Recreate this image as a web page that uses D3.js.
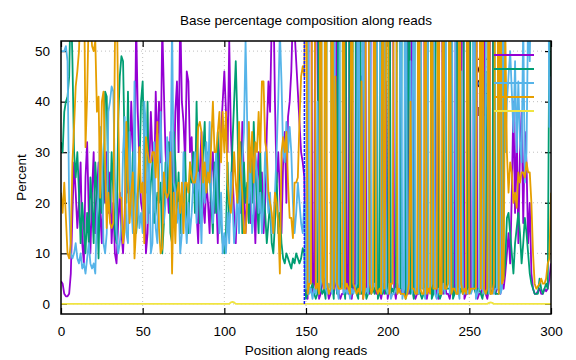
<!DOCTYPE html>
<html>
<head>
<meta charset="utf-8">
<script src="https://cdn.jsdelivr.net/npm/d3@7"></script>
<style>
  body { margin: 0; background: #fff; }
  text { font-family: "Liberation Sans", Arial, sans-serif; fill: #000; }
</style>
</head>
<body>
<div id="chart"></div>
<script>
// chart values (position 0..300)
const title = 'Base percentage composition along reads';
const xLabel = 'Position along reads';
const yLabel = 'Percent';
const seriesNames = ['A', 'C', 'G', 'T', 'N'];
const xTicks = [0, 50, 100, 150, 200, 250, 300];
const yTicks = [0, 10, 20, 30, 40, 50];
const readBoundary = 149;

const baseA = [
  4.5, 4, 2, 1.5, 1.5, 2, 6, 18, 28, 22,
  15, 20, 28, 12, 8, 25, 32, 18, 10, 22,
  30, 14, 22, 28, 18, 12, 26, 20, 30, 18,
  26, 12, 20, 10, 8, 16, 22, 14, 10, 18,
  30, 22, 26, 40, 30, 22, 56, 38, 28, 20,
  18, 28, 10, 14, 26, 38, 30, 22, 42, 30,
  40, 28, 55, 42, 30, 24, 18, 34, 26, 20,
  38, 44, 30, 58, 40, 36, 28, 46, 44, 30,
  33, 22, 28, 18, 12, 26, 34, 20, 16, 24,
  20, 14, 26, 30, 18, 22, 12, 28, 34, 40,
  46, 38, 30, 52, 34, 26, 18, 12, 22, 30,
  18, 36, 24, 14, 20, 28, 16, 32, 22, 12,
  24, 30, 18, 26, 14, 20, 34, 44, 38, 56,
  62, 40, 24, 30, 22, 14, 28, 34, 20, 37,
  40, 46, 58, 54, 48, 42, 36, 30, 28, 25,
  2, 1, 90, 88, 2, 4, 93, 50, 1, 2,
  4, 5, 2, 3, 1, 2, 3, 2, 4, 90,
  2, 1, 2, 2, 92, 3, 2, 93, 1, 4,
  3, 91, 3, 2, 45, 1, 90, 2, 3, 2,
  92, 90, 3, 2, 4, 3, 1, 3, 2, 44,
  1, 3, 92, 90, 3, 1, 4, 3, 2, 3,
  2, 3, 92, 2, 4, 91, 2, 1, 2, 2,
  4, 93, 92, 3, 1, 3, 3, 2, 3, 46,
  2, 1, 94, 93, 2, 4, 2, 2, 1, 3,
  2, 3, 91, 2, 4, 42, 92, 1, 2, 2,
  90, 3, 3, 4, 93, 1, 2, 2, 3, 91,
  2, 1, 3, 92, 91, 3, 2, 3, 3, 2,
  4, 3, 6, 10, 14, 8, 22, 40, 18, 36,
  12, 30, 38, 16, 34, 28, 12, 20, 6, 3,
  2, 2, 2.5, 3, 2, 2, 3, 2.5, 3, 5, 8
];

const baseC = [
  32, 30, 38, 40, 41, 45, 62, 48, 30, 25,
  30, 22, 12, 20, 15, 10, 18, 12, 25, 20,
  12, 28, 22, 9, 26, 18, 20, 42, 41, 22,
  18, 30, 22, 14, 12, 36, 45, 49, 48, 30,
  20, 42, 24, 18, 30, 25, 14, 18, 26, 40,
  44, 30, 22, 40, 18, 24, 28, 16, 18, 22,
  20, 24, 10, 16, 28, 22, 32, 14, 12, 34,
  28, 18, 26, 14, 22, 20, 30, 18, 14, 28,
  24, 30, 18, 40, 26, 16, 20, 30, 36, 22,
  30, 26, 20, 14, 28, 18, 34, 20, 16, 12,
  10, 14, 28, 16, 22, 32, 40, 48, 36, 20,
  32, 14, 28, 20, 24, 16, 30, 20, 36, 26,
  20, 14, 30, 16, 22, 18, 12, 16, 20, 12,
  10, 16, 26, 14, 18, 12, 9, 8, 10, 9,
  8, 7, 9, 8, 10, 9, 8, 9, 11, 10,
  1, 2, 3, 3, 4, 2, 1, 2, 94, 3,
  2, 3, 1, 90, 92, 90, 4, 1, 44, 2,
  93, 3, 4, 4, 1, 90, 91, 3, 2, 89,
  90, 2, 1, 93, 2, 3, 4, 1, 2, 3,
  2, 3, 2, 91, 1, 2, 94, 2, 4, 2,
  3, 90, 2, 3, 2, 4, 91, 90, 3, 93,
  92, 1, 3, 90, 2, 3, 1, 94, 92, 3,
  2, 1, 2, 4, 2, 90, 91, 1, 2, 44,
  93, 2, 1, 2, 3, 90, 3, 3, 3, 91,
  1, 2, 4, 92, 2, 3, 2, 93, 92, 3,
  4, 91, 90, 3, 2, 3, 3, 2, 1, 3,
  46, 2, 4, 2, 3, 90, 2, 2, 2, 3,
  88, 5, 8, 17, 18, 14, 10, 6, 12, 15,
  18, 14, 8, 12, 17, 14, 10, 6, 4, 3,
  2, 2, 2, 5, 3, 2, 3, 4, 3, 55, 40
];

const baseG = [
  50, 50, 50, 51, 48, 20, 10, 9, 10, 12,
  9, 8, 10, 7, 8, 6, 9, 12, 8, 7,
  8, 6, 18, 22, 35, 30, 12, 10, 14, 38,
  40, 43, 42, 25, 14, 10, 12, 16, 30, 37,
  14, 12, 34, 20, 14, 44, 15, 22, 15, 18,
  14, 40, 35, 16, 28, 10, 12, 32, 15, 12,
  25, 38, 24, 16, 20, 33, 28, 22, 56, 24,
  22, 16, 20, 10, 14, 30, 18, 12, 20, 14,
  18, 24, 30, 16, 26, 22, 12, 26, 20, 32,
  24, 36, 22, 16, 24, 30, 20, 14, 22, 10,
  14, 10, 18, 12, 26, 20, 12, 16, 22, 14,
  24, 28, 34, 52, 36, 20, 28, 14, 18, 30,
  26, 18, 22, 14, 20, 30, 24, 18, 22, 14,
  14, 22, 30, 40, 54, 44, 30, 28, 36, 30,
  35, 30, 20, 14, 18, 24, 20, 16, 14, 20,
  3, 94, 2, 3, 1, 3, 2, 40, 2, 4,
  88, 90, 3, 2, 4, 3, 2, 93, 5, 3,
  1, 92, 90, 2, 3, 2, 3, 1, 3, 2,
  3, 4, 92, 2, 3, 94, 2, 3, 2, 90,
  3, 3, 4, 3, 92, 91, 2, 3, 90, 3,
  2, 4, 1, 2, 2, 3, 2, 3, 92, 1,
  3, 94, 2, 3, 48, 2, 93, 2, 3, 2,
  90, 3, 3, 1, 94, 3, 3, 4, 91, 2,
  1, 3, 2, 2, 4, 2, 91, 90, 2, 3,
  93, 92, 2, 3, 1, 46, 3, 2, 3, 2,
  3, 2, 3, 89, 1, 2, 3, 92, 3, 2,
  42, 93, 2, 3, 3, 2, 3, 3, 92, 2,
  3, 86, 30, 40, 45, 50, 42, 34, 48, 30,
  44, 32, 28, 56, 24, 30, 58, 48, 70, 84,
  92, 93, 92, 88, 90, 92, 90, 88, 86, 35, 45
];

const baseT = [
  22, 18, 24, 17, 10, 9, 12, 28, 35, 43,
  46, 50, 60, 58, 70, 31, 41, 58, 57, 51,
  50, 52, 38, 41, 21, 40, 42, 28, 15, 22,
  16, 15, 16, 51, 66, 38, 21, 21, 12, 15,
  36, 24, 16, 22, 26, 9, 15, 22, 31, 22,
  24, 12, 33, 30, 28, 28, 30, 30, 25, 36,
  15, 10, 11, 26, 22, 21, 22, 30, 6, 22,
  12, 22, 24, 18, 24, 14, 24, 24, 22, 28,
  25, 24, 24, 26, 35, 36, 34, 24, 28, 22,
  26, 24, 32, 40, 30, 30, 34, 38, 28, 38,
  30, 38, 24, 20, 18, 22, 30, 24, 20, 36,
  26, 22, 14, 14, 20, 36, 26, 34, 24, 32,
  30, 38, 30, 44, 44, 32, 30, 22, 20, 18,
  14, 22, 20, 16, 6, 30, 33, 30, 34, 24,
  17, 17, 13, 24, 24, 25, 36, 45, 47, 45,
  92, 2, 4, 4, 92, 89, 3, 4, 2, 90,
  5, 3, 93, 4, 2, 3, 90, 3, 45, 4,
  3, 3, 3, 91, 3, 4, 3, 2, 93, 4,
  3, 2, 3, 2, 44, 1, 3, 93, 92, 4,
  2, 3, 90, 3, 2, 3, 2, 91, 3, 46,
  93, 2, 4, 4, 92, 91, 2, 3, 2, 2,
  2, 1, 2, 4, 40, 3, 3, 2, 2, 92,
  3, 2, 2, 91, 2, 3, 2, 92, 3, 3,
  3, 93, 2, 2, 90, 3, 3, 4, 93, 2,
  3, 3, 2, 2, 92, 4, 2, 3, 2, 92,
  2, 3, 3, 3, 3, 93, 92, 3, 92, 3,
  2, 3, 90, 2, 2, 4, 92, 91, 2, 92,
  4, 5, 55, 30, 22, 28, 26, 20, 22, 19,
  26, 24, 26, 26, 25, 28, 26, 26, 20, 10,
  4, 3, 3.5, 4, 5, 4, 4, 5, 8, 9, 22
];

const baseN = [
  0, 0, 0, 0, 0, 0, 0, 0, 0, 0, 0, 0, 0, 0, 0, 0, 0, 0, 0, 0,
  0, 0, 0, 0, 0, 0, 0, 0, 0, 0, 0, 0, 0, 0, 0, 0, 0, 0, 0, 0,
  0, 0, 0, 0, 0, 0, 0, 0, 0, 0, 0, 0, 0, 0, 0, 0, 0, 0, 0, 0,
  0, 0, 0, 0, 0, 0, 0, 0, 0, 0, 0, 0, 0, 0, 0, 0, 0, 0, 0, 0,
  0, 0, 0, 0, 0, 0, 0, 0, 0, 0, 0, 0, 0, 0, 0, 0, 0, 0, 0, 0,
  0, 0, 0, 0, 0.3, 0.4, 0.3, 0, 0, 0, 0, 0, 0, 0, 0, 0, 0, 0, 0, 0,
  0, 0, 0, 0, 0, 0, 0, 0, 0, 0, 0, 0, 0, 0, 0, 0, 0, 0, 0, 0,
  0, 0, 0, 0, 0, 0, 0, 0, 0, 0, 0, 0, 0, 0, 0, 0, 0, 0, 0, 0,
  0, 0, 0, 0, 0, 0, 0, 0, 0, 0, 0, 0, 0, 0, 0, 0, 0, 0, 0, 0,
  0, 0, 0, 0, 0, 0, 0, 0, 0, 0, 0, 0, 0, 0, 0, 0, 0, 0, 0, 0,
  0, 0, 0, 0, 0, 0, 0, 0, 0, 0, 0, 0, 0, 0, 0, 0, 0, 0, 0, 0,
  0, 0, 0, 0, 0, 0, 0, 0, 0, 0, 0, 0, 0, 0, 0, 0, 0, 0, 0, 0,
  0, 0, 0, 0, 0, 0, 0, 0, 0, 0, 0, 0, 0, 0, 0, 0, 0, 0, 0, 0,
  0, 0, 0.2, 0.3, 0.2, 0, 0, 0, 0, 0, 0, 0, 0, 0, 0, 0, 0, 0, 0, 0,
  0, 0, 0, 0, 0, 0, 0, 0, 0, 0, 0, 0, 0, 0, 0, 0, 0, 0, 0, 0,
  0
];

const colors = ['#9400d3', '#009e73', '#56b4e9', '#e69f00', '#f0e442'];
const series = [baseA, baseC, baseG, baseT, baseN];

////////////////////////////////////////////////////////////////////////////////
// SETUP
////////////////////////////////////////////////////////////////////////////////
const width = 576;
const height = 360;
const margin = {top: 41, right: 25, bottom: 46, left: 61};
const plotW = width - margin.left - margin.right;
const plotH = height - margin.top - margin.bottom;

const svg = d3.select('#chart').append('svg')
  .attr('width', width)
  .attr('height', height);

const x = d3.scaleLinear().domain([0, 300]).range([margin.left, margin.left + plotW]);
const y = d3.scaleLinear().domain([-2, 52]).range([margin.top + plotH, margin.top]);

svg.append('clipPath').attr('id', 'plot-clip')
  .append('rect')
  .attr('x', margin.left).attr('y', margin.top)
  .attr('width', plotW).attr('height', plotH);

// grid
const grid = svg.append('g');
grid.selectAll('line.gx').data(xTicks.slice(1, -1)).enter().append('line')
  .attr('x1', d => x(d)).attr('x2', d => x(d))
  .attr('y1', margin.top).attr('y2', margin.top + plotH)
  .attr('stroke', '#b0b0b0').attr('stroke-width', 0.8).attr('stroke-dasharray', '1,3');
grid.selectAll('line.gy').data(yTicks).enter().append('line')
  .attr('y1', d => y(d)).attr('y2', d => y(d))
  .attr('x1', margin.left).attr('x2', margin.left + plotW)
  .attr('stroke', '#b0b0b0').attr('stroke-width', 0.8).attr('stroke-dasharray', '1,3');

// axes (tick labels + inward ticks on all four sides)
const xAxis = d3.axisBottom(x).tickValues(xTicks).tickSizeInner(-6).tickSizeOuter(0).tickPadding(12);
const yAxis = d3.axisLeft(y).tickValues(yTicks).tickSizeInner(-6).tickSizeOuter(0).tickPadding(11);
const xTop = d3.axisTop(x).tickValues(xTicks).tickSizeInner(-6).tickSizeOuter(0).tickFormat('');
const yRight = d3.axisRight(y).tickValues(yTicks).tickSizeInner(-6).tickSizeOuter(0).tickFormat('');

function styleAxis(g) {
  g.select('.domain').remove();
  g.selectAll('line').attr('stroke', '#000').attr('stroke-width', 1.2);
  g.selectAll('text').style('font-size', '13.5px').attr('fill', '#000')
    .style('font-family', '"Liberation Sans", Arial, sans-serif');
}
svg.append('g').attr('transform', `translate(0,${margin.top + plotH})`).call(xAxis).call(styleAxis);
svg.append('g').attr('transform', `translate(${margin.left},0)`).call(yAxis).call(styleAxis);
svg.append('g').attr('transform', `translate(0,${margin.top})`).call(xTop).call(styleAxis);
svg.append('g').attr('transform', `translate(${margin.left + plotW},0)`).call(yRight).call(styleAxis);

// titles
svg.append('text').attr('x', x(150)).attr('y', 25).attr('text-anchor', 'middle')
  .style('font-size', '13.5px').text(title);
svg.append('text').attr('x', x(150)).attr('y', 355).attr('text-anchor', 'middle')
  .style('font-size', '13.5px').text(xLabel);
svg.append('text').attr('transform', `translate(26,${margin.top + plotH / 2}) rotate(-90)`)
  .attr('text-anchor', 'middle').style('font-size', '13.5px').text(yLabel);

// key text first, then each sample + its line (gnuplot order)
const keyX = 487;
const keyY = i => 55 + i * 14;
svg.selectAll('text.key').data(seriesNames).enter().append('text')
  .attr('class', 'key')
  .attr('x', keyX).attr('y', (d, i) => keyY(i) + 5)
  .attr('text-anchor', 'end').style('font-size', '13.5px').text(d => d);

const line = d3.line().x((d, i) => x(i)).y(d => y(d));
const plot = svg.append('g').attr('clip-path', 'url(#plot-clip)');

series.forEach((vals, i) => {
  svg.append('line')
    .attr('x1', keyX + 7).attr('x2', keyX + 47)
    .attr('y1', keyY(i)).attr('y2', keyY(i))
    .attr('stroke', colors[i]).attr('stroke-width', 1.8);
  plot.append('path').datum(vals)
    .attr('d', line)
    .attr('fill', 'none')
    .attr('stroke', colors[i])
    .attr('stroke-width', 1.8)
    .attr('stroke-linejoin', 'round');
});

// read 1 / read 2 boundary
plot.append('line')
  .attr('x1', x(readBoundary)).attr('x2', x(readBoundary))
  .attr('y1', y(0)).attr('y2', y(52))
  .attr('stroke', '#1a1aff').attr('stroke-width', 1.5).attr('stroke-dasharray', '3,1');

// border on top
svg.append('rect')
  .attr('x', margin.left).attr('y', margin.top)
  .attr('width', plotW).attr('height', plotH)
  .attr('fill', 'none').attr('stroke', '#000').attr('stroke-width', 1.5);
</script>
</body>
</html>
